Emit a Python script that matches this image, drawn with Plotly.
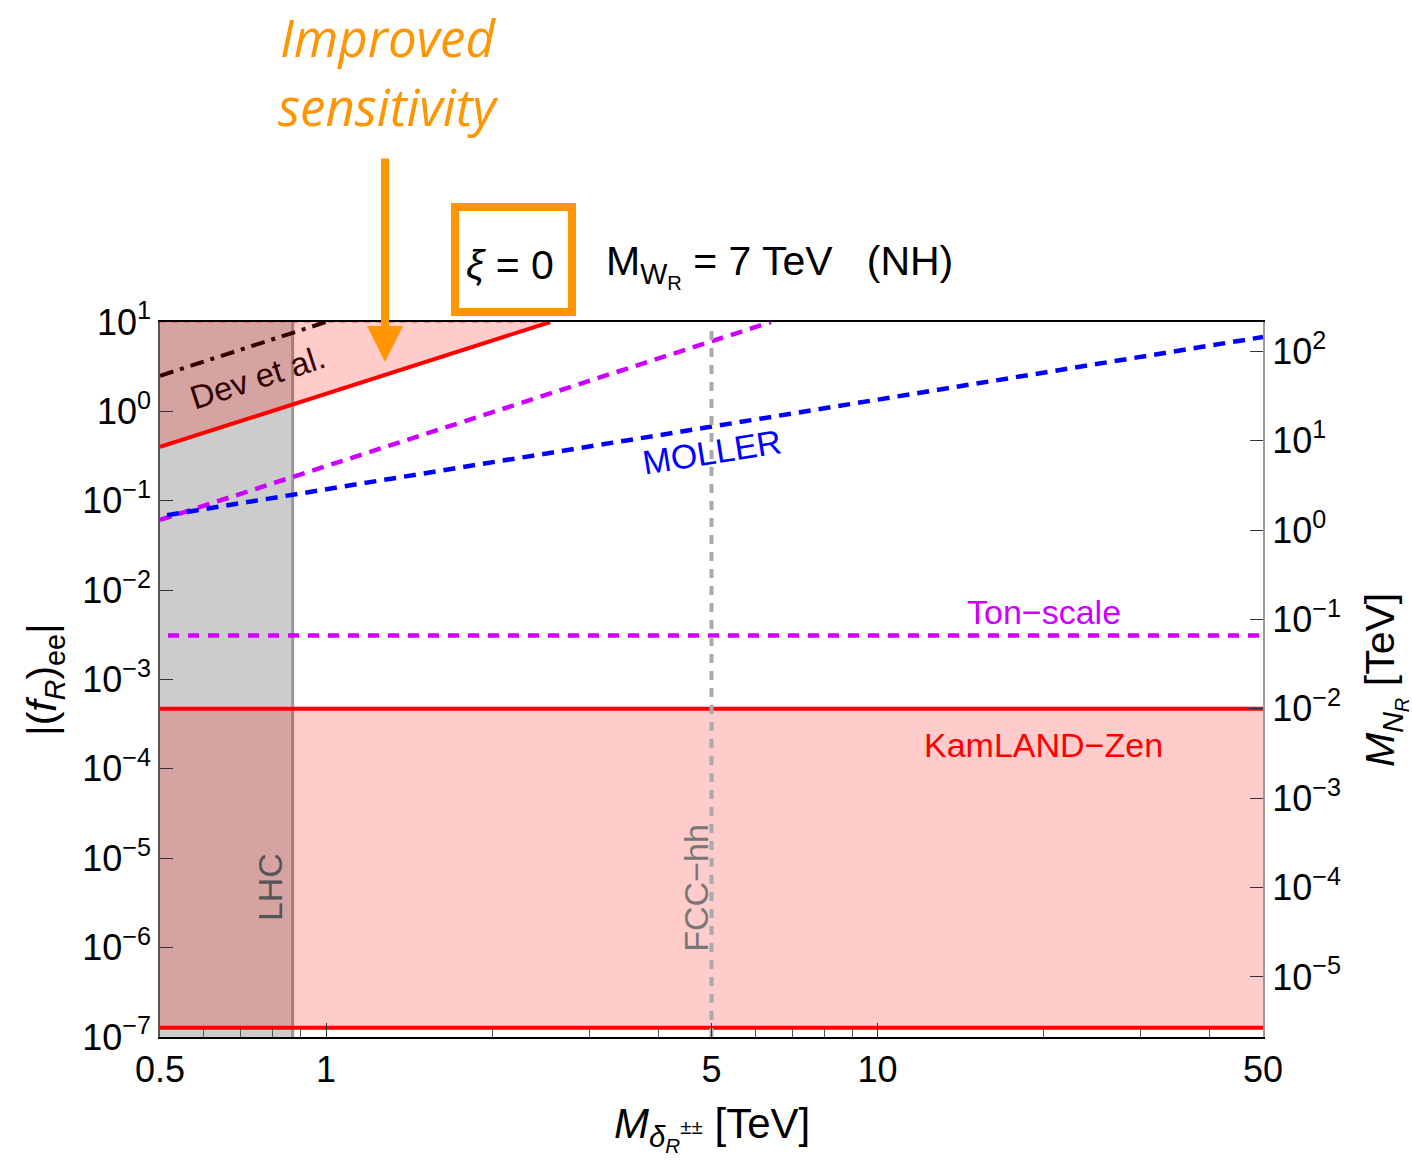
import plotly.graph_objects as go
import math

# ---------------- data ----------------
x_range = [0.5, 50]            # M_delta [TeV]
y_range = [1e-7, 10]           # |(f_R)_ee|
mn_factor = 21.3               # right axis: M_N [TeV] per unit of |(f_R)_ee|

x_tick_vals = [0.5, 1, 5, 10, 50]
x_tick_text = ["0.5", "1", "5", "10", "50"]
x_minor_vals = [0.6, 0.7, 0.8, 0.9, 2, 3, 4, 6, 7, 8, 9, 20, 30, 40]
y_tick_exps = [1, 0, -1, -2, -3, -4, -5, -6, -7]
y2_tick_exps = [2, 1, 0, -1, -2, -3, -4, -5]

# improved sensitivity (red solid) bound
m_improved = [0.5, 2.55]
f_improved = [0.40, 10.0]
# Dev et al. (dash-dot)
m_dev = [0.5, 1.0]
f_dev = [2.5, 10.0]
# MOLLER (blue dashed)
m_moller = [0.515, 50.0]
f_moller = [0.069, 6.8]
# Ton-scale (magenta) diagonal and horizontal
m_ton_diag = [0.5, 6.41]
f_ton_diag = [0.061, 10.0]
m_ton_flat = [0.517, 50.0]
f_ton_flat = [3.1e-3, 3.1e-3]
# KamLAND-Zen band
m_kamland = [0.5, 50.0]
f_kamland_upper = [4.7e-4, 4.7e-4]
f_kamland_lower = [1.27e-7, 1.27e-7]
# LHC / FCC-hh
lhc_mass = 0.87
fcc_mass = 5.0
fcc_f_top = 8.0

# ---------------- figure ----------------
W, H = 1412, 1161
ML, MR, MT, MB = 160, 149, 322, 124
FONT = "Liberation Sans"
ORANGE = "#ff9500"
MAGENTA = "#cc00ff"

fig = go.Figure()

# upper pink region (above improved line)
fig.add_trace(go.Scatter(x=m_improved + [m_improved[0]],
                         y=f_improved + [f_improved[-1]],
                         fill="toself", fillcolor="rgba(255,0,0,0.2)",
                         line=dict(width=0), mode="lines", hoverinfo="skip"))
# top dashed boundary
fig.add_trace(go.Scatter(x=m_improved, y=[f_improved[-1], f_improved[-1]],
                         mode="lines", line=dict(color="rgba(255,0,0,0.35)", width=2, dash="6px,6px")))
# KamLAND band fill
fig.add_trace(go.Scatter(x=m_kamland, y=f_kamland_lower, mode="lines",
                         line=dict(color="#ff0000", width=4)))
fig.add_trace(go.Scatter(x=m_kamland, y=f_kamland_upper, mode="lines",
                         fill="tonexty", fillcolor="rgba(255,0,0,0.2)",
                         line=dict(color="#ff0000", width=4)))
# Dev et al.
fig.add_trace(go.Scatter(x=m_dev, y=f_dev, mode="lines",
                         line=dict(color="#330000", width=4, dash="14px,7px,4px,7px")))
# improved red line
fig.add_trace(go.Scatter(x=m_improved, y=f_improved, mode="lines",
                         line=dict(color="#ff0000", width=4)))
# Ton-scale
fig.add_trace(go.Scatter(x=m_ton_diag, y=f_ton_diag, mode="lines",
                         line=dict(color=MAGENTA, width=4.5, dash="12px,8px")))
fig.add_trace(go.Scatter(x=m_ton_flat, y=f_ton_flat, mode="lines",
                         line=dict(color=MAGENTA, width=4.5, dash="11px,9px")))
# MOLLER
fig.add_trace(go.Scatter(x=m_moller, y=f_moller, mode="lines",
                         line=dict(color="#0000ff", width=4.5, dash="12px,8px")))
# FCC-hh
fig.add_trace(go.Scatter(x=[fcc_mass, fcc_mass], y=[y_range[0], fcc_f_top], mode="lines",
                         line=dict(color="#aaaaaa", width=4, dash="9px,8px")))

# LHC grey band (below traces)
fig.add_shape(type="rect", xref="x", yref="paper", x0=x_range[0], x1=lhc_mass, y0=0, y1=1,
              fillcolor="#cccccc", line=dict(width=0), layer="below")
fig.add_shape(type="line", xref="x", yref="paper", x0=lhc_mass, x1=lhc_mass, y0=0, y1=1,
              line=dict(color="#999999", width=3), layer="below")

def px2paper(px, py):
    return (px - ML) / (W - ML - MR), (H - MB - py) / (H - MT - MB)

# orange box around xi = 0
bx0, by0 = px2paper(455, 312)
bx1, by1 = px2paper(572, 207)
fig.add_shape(type="rect", xref="paper", yref="paper", x0=bx0, x1=bx1, y0=by0, y1=by1,
              line=dict(color=ORANGE, width=8), fillcolor="rgba(0,0,0,0)")

ann = []
def add_text(text, x, y, size, color="black", angle=0, xref="x", yref="y", family=FONT, **kw):
    if xref == "x":
        x = math.log10(x)
    if yref == "y":
        y = math.log10(y)
    ann.append(dict(text=text, x=x, y=y, xref=xref, yref=yref, showarrow=False,
                    xanchor="center", yanchor="middle",
                    font=dict(size=size, color=color, family=family), textangle=angle, **kw))

# header
px, py = px2paper(510, 265)
add_text("<i>ξ</i> = 0", px, py, 41, xref="paper", yref="paper")
px, py = px2paper(779, 266)
add_text("M<sub>W<sub>R</sub></sub> = 7 TeV   (NH)", px, py, 41, xref="paper", yref="paper")
px, py = px2paper(388, 37)
add_text("<i>Improved</i>", px, py, 51, color=ORANGE, xref="paper", yref="paper", family="Open Sans")
px, py = px2paper(388, 106)
add_text("<i>sensitivity</i>", px, py, 51, color=ORANGE, xref="paper", yref="paper", family="Open Sans")
# arrow
hx, hy = px2paper(385, 362)
ann.append(dict(x=hx, y=hy, xref="paper", yref="paper", ax=0, ay=-205, showarrow=True,
                arrowhead=2, arrowsize=0.9, arrowwidth=8, arrowcolor=ORANGE, text=""))

# in-plot labels
add_text("Dev et al.", 0.75, 2.37, 33, color="#330000", angle=-18)
add_text("MOLLER", 5.0, 0.35, 34, color="#0000ff", angle=-9)
add_text("Ton−scale", 20, 5.7e-3, 34, color=MAGENTA)
add_text("KamLAND−Zen", 20, 1.86e-4, 34, color="#ff0000")
add_text("LHC", 0.79, 4.7e-6, 34, color="#555555", angle=-90)
add_text("FCC−hh", 4.67, 4.7e-6, 34, color="#777777", angle=-90)

# axis titles
px, py = px2paper(45, 680)
add_text("|(<i>f</i><sub><i>R</i></sub>)<sub>ee</sub>|", px, py, 41, angle=-90, xref="paper", yref="paper")
px, py = px2paper(1385, 680)
add_text("<i>M</i><sub><i>N</i><sub><i>R</i></sub></sub> [TeV]", px, py, 41, angle=-90, xref="paper", yref="paper")
px, py = px2paper(712, 1128)
add_text("<i>M</i><sub><i>δ</i><sub><i>R</i></sub><sup>±±</sup></sub> [TeV]", px, py, 42, xref="paper", yref="paper")

def sup_label(e):
    return "10<sup>" + (str(e) if e >= 0 else "−" + str(-e)) + "</sup>"

fig.update_layout(
    width=W, height=H, margin=dict(l=ML, r=MR, t=MT, b=MB),
    paper_bgcolor="white", plot_bgcolor="white", showlegend=False,
    annotations=ann,
    xaxis=dict(type="log", range=[math.log10(x_range[0]), math.log10(x_range[1])],
               tickvals=x_tick_vals, ticktext=x_tick_text, ticks="inside", ticklen=14,
               tickwidth=1, tickcolor="#333", showgrid=False, zeroline=False,
               showline=True, linecolor="black", linewidth=1.5, mirror=True,
               tickfont=dict(size=36, family=FONT, color="black"),
               minor=dict(tickvals=x_minor_vals, ticks="inside", ticklen=8, tickcolor="#555", showgrid=False)),
    yaxis=dict(type="log", range=[math.log10(y_range[0]), math.log10(y_range[1])],
               tickvals=[10.0 ** e for e in y_tick_exps], ticktext=[sup_label(e) for e in y_tick_exps],
               ticks="inside", ticklen=13, tickcolor="#333", showgrid=False, zeroline=False,
               showline=True, linecolor="#555", linewidth=1.5,
               tickfont=dict(size=36, family=FONT, color="black")),
    yaxis2=dict(type="log", overlaying="y", side="right", anchor="x",
                range=[math.log10(y_range[0] * mn_factor), math.log10(y_range[1] * mn_factor)],
                tickvals=[10.0 ** e for e in y2_tick_exps], ticktext=[sup_label(e) for e in y2_tick_exps],
                ticks="inside", ticklen=13, tickcolor="#333", showgrid=False, zeroline=False,
                showline=True, linecolor="#999", linewidth=2,
                tickfont=dict(size=36, family=FONT, color="black")),
)
# invisible trace to anchor the right axis
fig.add_trace(go.Scatter(x=[x_range[0]], y=[y_range[0] * mn_factor], yaxis="y2",
                         mode="markers", marker=dict(opacity=0), hoverinfo="skip"))

fig.write_html("out.html")
